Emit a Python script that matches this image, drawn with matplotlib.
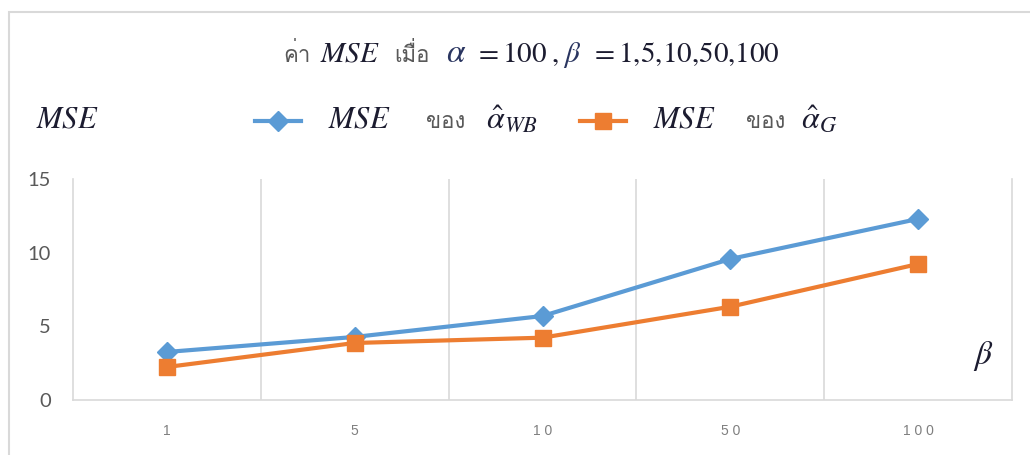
import matplotlib
matplotlib.use("Agg")
import matplotlib.pyplot as plt
from matplotlib import font_manager as fm
from matplotlib.ft2font import FT2Font
from matplotlib.patches import Rectangle

# data
beta_labels = ["1", "5", "10", "50", "100"]
mse_wb = [3.26, 4.28, 5.70, 9.57, 12.29]
mse_g = [2.24, 3.87, 4.23, 6.33, 9.23]

# look for a font that has thai glyphs
thai = None
for f in fm.fontManager.ttflist:
    try:
        if 0x0E02 in FT2Font(f.fname).get_charmap():
            thai = f.name
            break
    except Exception:
        pass
thai_fam = [thai, "DejaVu Sans"] if thai else ["DejaVu Sans"]

plt.rcParams["mathtext.fontset"] = "stix"
plt.rcParams["font.family"] = ["Lato", "DejaVu Sans"]

W, H = 1030, 455
fig = plt.figure(figsize=(W / 100, H / 100), dpi=100)
ax = fig.add_axes([73 / W, 1 - 400 / H, (1012 - 73) / W, (400 - 179) / H])

blue = "#5B9BD5"
orange = "#ED7D31"
grid_c = "#d9d9d9"

x = range(len(beta_labels))
ax.plot(x, mse_wb, color=blue, lw=3, marker="D", ms=10.5, zorder=3)
ax.plot(x, mse_g, color=orange, lw=3, marker="s", ms=11.5, zorder=3)

ax.set_xlim(-0.5, len(beta_labels) - 0.5)
ax.set_ylim(0, 15)
ax.set_yticks([0, 5, 10, 15])
ax.set_xticks(list(x))
ax.set_xticklabels([" ".join(s) for s in beta_labels], family=["Liberation Sans"])
ax.set_xticks([i + 0.5 for i in range(len(beta_labels) - 1)], minor=True)
ax.grid(True, which="minor", axis="x", color=grid_c, lw=1.2)
ax.tick_params(axis="both", which="both", length=0)
ax.tick_params(axis="y", labelsize=14.5, labelcolor="#595959", pad=16)
ax.tick_params(axis="x", labelsize=10, labelcolor="#7f7f7f", pad=17)
for s in ["left", "bottom", "right"]:
    ax.spines[s].set_color(grid_c)
    ax.spines[s].set_linewidth(1.2)
ax.spines["top"].set_visible(False)

# outer chart border
fig.add_artist(Rectangle((9 / W, -0.1), 1.2, 1 - 12 / H + 0.1, transform=fig.transFigure,
                         fill=False, ec=grid_c, lw=1.5))


def put(px, py, s, **kw):
    fig.text(px / W, 1 - py / H, s, ha="left", va="baseline", **kw)


dark = "#1c1c30"
gray = "#595959"

# title
put(283, 62, "ค่า", fontsize=16, color=gray, family=thai_fam)
put(320, 62, "$MSE$", fontsize=21, color=dark)
put(394, 62, "เมื่อ", fontsize=16, color=gray, family=thai_fam)
put(446, 62, r"$\alpha$", fontsize=24, color="#2a3560")
put(474, 62, r"$\mathrm{=100}$", fontsize=21, color=dark)
put(551, 62, r"$\mathrm{,}$", fontsize=21, color=dark)
put(563, 62, r"$\beta$", fontsize=21, color="#2a3560")
put(590, 62, r"$\mathrm{=1{,}5{,}10{,}50{,}100}$", fontsize=21, color=dark)

# legend row
put(36, 128, "$MSE$", fontsize=22, color=dark)
for x0, c, m, ms in [(255, blue, "D", 10.5), (580, orange, "s", 11.5)]:
    fig.add_artist(plt.Line2D([x0 / W, (x0 + 46) / W], [1 - 121 / H] * 2, color=c, lw=3,
                              transform=fig.transFigure))
    fig.add_artist(plt.Line2D([(x0 + 23) / W], [1 - 121 / H], color=c, marker=m, ms=ms,
                              transform=fig.transFigure))
put(328, 128, "$MSE$", fontsize=22, color=dark)
put(426, 128, "ของ", fontsize=16, color=gray, family=thai_fam)
put(486, 128, r"$\hat{\alpha}_{WB}$", fontsize=23, color=dark)
put(653, 128, "$MSE$", fontsize=22, color=dark)
put(746, 128, "ของ", fontsize=16, color=gray, family=thai_fam)
put(801, 128, r"$\hat{\alpha}_{G}$", fontsize=23, color=dark)

# beta axis label
put(973, 364, r"$\beta$", fontsize=24, color=dark)

fig.savefig("out.png", dpi=100)
